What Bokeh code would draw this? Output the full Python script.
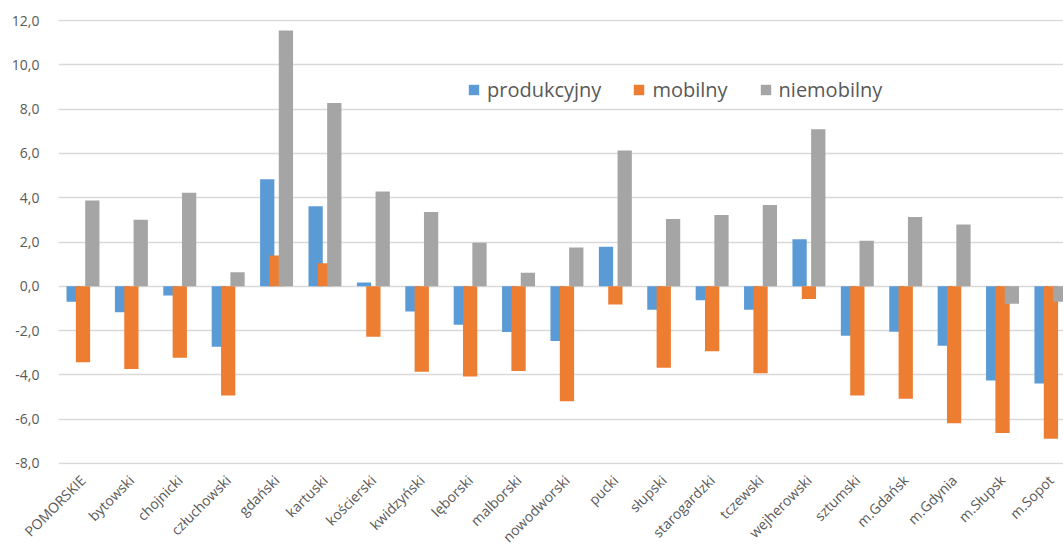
import math
from bokeh.plotting import figure
from bokeh.models import (ColumnDataSource, Range1d, FixedTicker, CustomJSTickFormatter,
                          Legend, LegendItem, Label)
from bokeh.transform import dodge
from bokeh.embed import file_html
from bokeh.resources import INLINE

categories = ["POMORSKIE", "bytowski", "chojnicki", "człuchowski", "gdański", "kartuski",
              "kościerski", "kwidzyński", "lęborski", "malborski", "nowodworski", "pucki",
              "słupski", "starogardzki", "tczewski", "wejherowski", "sztumski", "m.Gdańsk",
              "m.Gdynia", "m.Słupsk", "m.Sopot"]
produkcyjny = [-0.70, -1.17, -0.42, -2.73, 4.83, 3.62, 0.17, -1.14, -1.74, -2.07, -2.47,
               1.79, -1.06, -0.63, -1.06, 2.12, -2.23, -2.05, -2.69, -4.26, -4.39]
mobilny = [-3.43, -3.74, -3.23, -4.93, 1.39, 1.04, -2.28, -3.86, -4.07, -3.83, -5.19,
           -0.82, -3.68, -2.94, -3.93, -0.58, -4.93, -5.08, -6.19, -6.63, -6.89]
niemobilny = [3.88, 3.01, 4.22, 0.63, 11.55, 8.28, 4.28, 3.36, 1.97, 0.61, 1.75,
              6.13, 3.04, 3.22, 3.67, 7.09, 2.06, 3.13, 2.79, -0.79, -0.70]
y_ticks = [-8, -6, -4, -2, 0, 2, 4, 6, 8, 10, 12]
series_names = ["produkcyjny", "mobilny", "niemobilny"]
colors = ["#5B9BD5", "#ED7D31", "#A5A5A5"]

FONT = "Open Sans"
TXT = "#595959"

src = ColumnDataSource(dict(x=list(range(len(categories))), cat=categories,
                            produkcyjny=produkcyjny, mobilny=mobilny, niemobilny=niemobilny))

p = figure(width=1063, height=556, x_range=Range1d(-0.506, 20.26), y_range=Range1d(-8.05, 12.05),
           output_backend="svg", toolbar_location=None,
           min_border_left=58, min_border_right=0, min_border_top=19, min_border_bottom=92)
p.outline_line_color = None
p.background_fill_color = "white"
p.border_fill_color = "white"

p.xgrid.grid_line_color = None
p.ygrid.ticker = FixedTicker(ticks=y_ticks)
p.ygrid.grid_line_color = "#D9D9D9"
p.ygrid.grid_line_width = 1.5

offsets = [-0.193, 0.0, 0.193]
renderers = []
for name, col, off in zip(series_names, colors, offsets):
    r = p.vbar(x=dodge("x", off), top=name, bottom=0, width=0.295, source=src,
               fill_color=col, line_color=None)
    renderers.append(r)

yax = p.yaxis[0]
yax.ticker = FixedTicker(ticks=y_ticks)
yax.formatter = CustomJSTickFormatter(code="return tick.toFixed(1).replace('.', ',');")
yax.axis_line_color = None
yax.major_tick_line_color = None
yax.minor_tick_line_color = None
yax.major_label_text_font = FONT
yax.major_label_text_font_size = "14px"
yax.major_label_text_color = TXT
yax.major_label_standoff = 13

xax = p.xaxis[0]
xax.ticker = FixedTicker(ticks=list(range(len(categories))))
xax.major_label_overrides = {i: c for i, c in enumerate(categories)}
xax.major_label_orientation = math.pi / 4
xax.axis_line_color = None
xax.major_tick_line_color = None
xax.minor_tick_line_color = None
xax.major_label_text_font = FONT
xax.major_label_text_font_size = "14px"
xax.major_label_text_color = TXT
xax.major_label_standoff = 7

legend = Legend(items=[LegendItem(label=n, renderers=[r]) for n, r in zip(series_names, renderers)],
                orientation="horizontal", location=(409, 361),
                glyph_width=13, glyph_height=13, label_standoff=7, spacing=31,
                padding=0, margin=0, border_line_color=None, background_fill_alpha=0,
                label_text_font=FONT, label_text_font_size="20px", label_text_color=TXT)
p.add_layout(legend)

p.add_layout(Label(x=-1.39, y=2.0, x_units="data", y_units="data", text="%", angle=math.pi / 2,
                   text_align="center", text_baseline="middle", text_font=FONT,
                   text_font_size="14px", text_color=TXT))

open("out.html", "w").write(file_html(p, INLINE))
